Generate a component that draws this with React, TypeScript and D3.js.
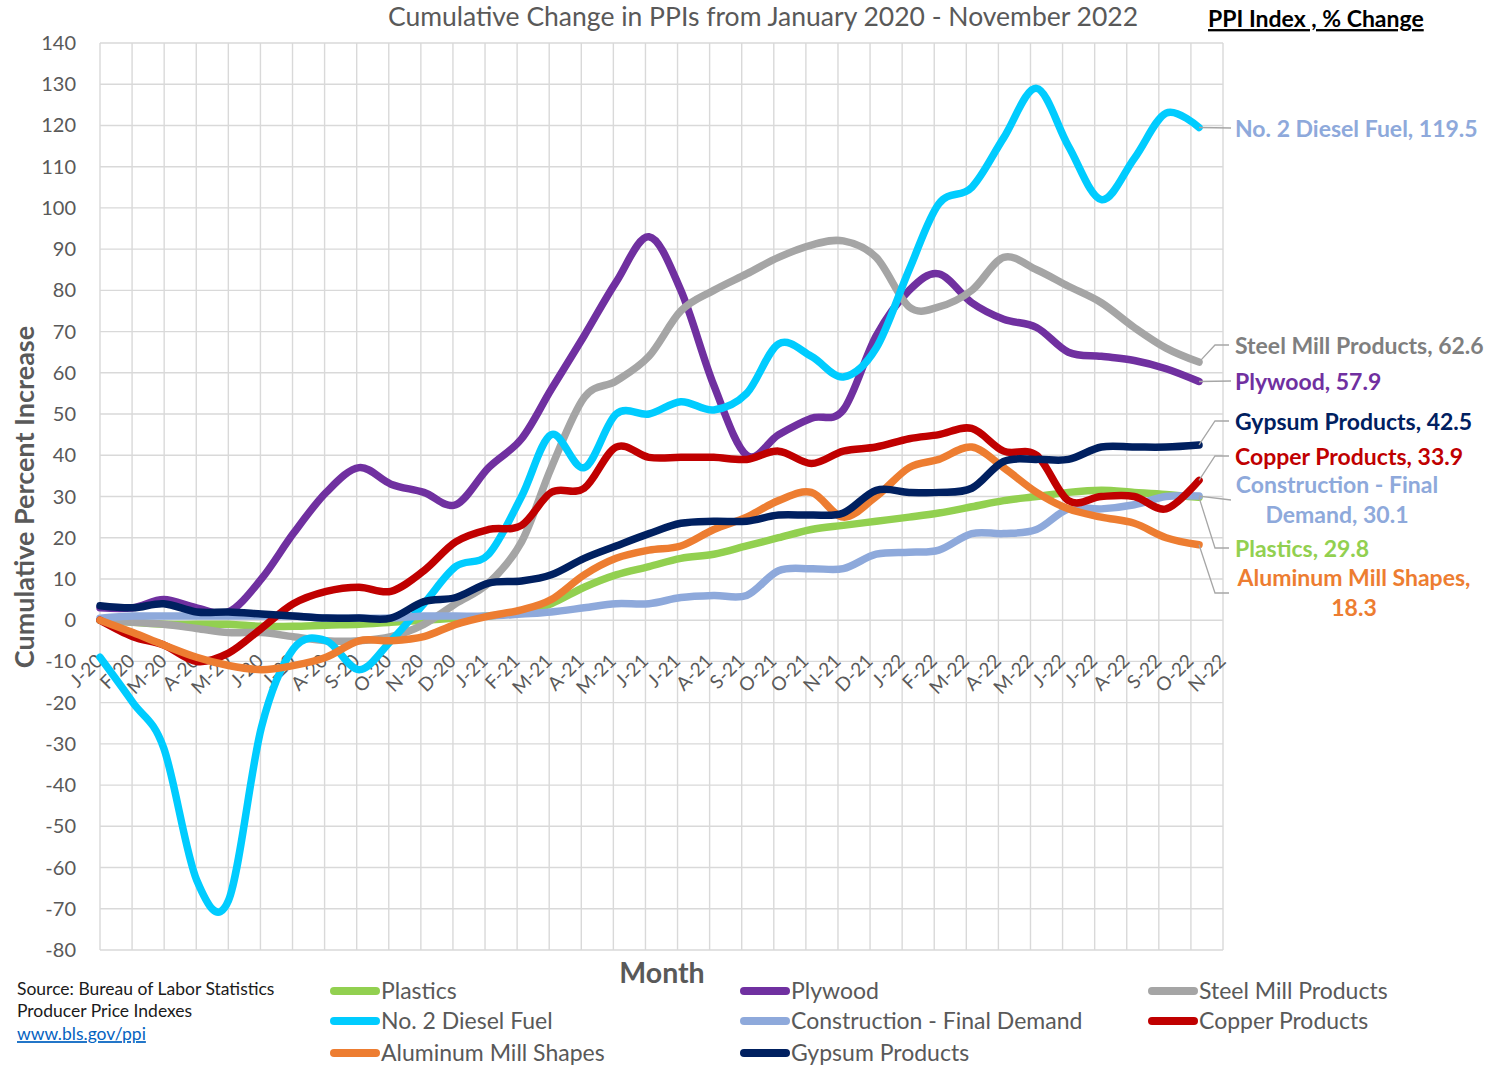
import React, { useEffect, useRef } from 'react';
import * as d3 from 'd3';

const W = 1497;
const H = 1066;

// category labels as printed under the chart (36 of them, one per gridline)
const tickLabels = [
  'J-20', 'F-20', 'M-20', 'A-20', 'M-20', 'J-20', 'J-20', 'A-20', 'S-20', 'O-20', 'N-20', 'D-20',
  'J-21', 'F-21', 'M-21', 'A-21', 'M-21', 'J-21', 'J-21', 'A-21', 'S-21', 'O-21', 'O-21', 'N-21', 'D-21',
  'J-22', 'F-22', 'M-22', 'A-22', 'M-22', 'J-22', 'J-22', 'A-22', 'S-22', 'O-22', 'N-22',
];
const yTicks = [140, 130, 120, 110, 100, 90, 80, 70, 60, 50, 40, 30, 20, 10, 0, -10, -20, -30, -40, -50, -60, -70, -80];

// monthly points, Jan 2020 .. Nov 2022
const months = d3.timeMonths(new Date(2020, 0, 1), new Date(2022, 11, 1));

const plastics = [0, -0.5, -1, -1, -1, -1.5, -1.5, -1.2, -1, -0.5, 0, 0.5, 1, 2, 4, 8, 11, 13, 15, 16, 18, 20, 22, 23, 24, 25, 26, 27.5, 29, 30, 31, 31.5, 31, 30.5, 29.8];
const plywood = [3, 3, 5, 3, 2, 10, 21, 31, 37, 33, 31, 28, 37, 44, 56, 69, 82, 93, 80, 57, 40, 45, 49, 51, 69, 80, 84, 77, 73, 71, 65, 64, 63, 61, 57.9];
const steel = [0, -0.5, -1, -2, -3, -3, -4, -5, -5, -4, -1, 4, 9, 19, 37, 54, 58, 64, 75, 80, 84, 88, 91, 92, 88, 76, 76, 80, 88, 85, 81, 77, 71, 66, 62.6];
const diesel = [-9, -20, -31, -63, -68, -26, -7, -5, -12, -5, 4, 13, 16, 30, 45, 37, 50, 50, 53, 51, 55, 67, 64, 59, 66, 85, 101, 105, 117, 129, 115, 102, 112, 123, 119.5];
const construction = [0.5, 1, 1, 1, 1, 1, 1, 0.5, 0.5, 0.5, 1, 1, 1, 1.5, 2, 3, 4, 4, 5.5, 6, 6, 12, 12.5, 12.5, 16, 16.5, 17, 21, 21, 22, 27, 27, 28, 30, 30.1];
const copper = [0, -4, -6, -10, -8, -2, 4, 7, 8, 7, 12, 19, 22, 23, 31, 32, 42, 39.5, 39.5, 39.5, 39, 41, 38, 41, 42, 44, 45, 46.5, 41, 40, 29, 30, 30, 27, 33.9];
const aluminum = [0, -3, -6, -9, -11, -12, -11, -9, -5, -5, -4, -1, 1, 2.5, 5, 11, 15, 17, 18, 22, 25, 29, 31, 25, 30, 37, 39, 42, 37, 31, 27, 25, 23.5, 20, 18.3];
const gypsum = [3.5, 3, 4, 2, 2, 1.5, 1, 0.5, 0.5, 0.5, 4.5, 5.5, 9, 9.5, 11, 15, 18, 21, 23.5, 24, 24, 25.5, 25.5, 26, 31.5, 31, 31, 32, 38.5, 39, 39, 42, 42, 42, 42.5];

// legend order (row by row), which is also the drawing order
const seriesNames = ['Plastics', 'Plywood', 'Steel Mill Products', 'No. 2 Diesel Fuel', 'Construction - Final Demand', 'Copper Products', 'Aluminum Mill Shapes', 'Gypsum Products'];
const seriesValues = [plastics, plywood, steel, diesel, construction, copper, aluminum, gypsum];
const lineColors = ['#92D050', '#7030A0', '#A5A5A5', '#00CCFF', '#8EA9DB', '#C00000', '#ED7D31', '#002060'];
const labelColors = ['#92D050', '#7030A0', '#7F7F7F', '#8EA9DB', '#8EA9DB', '#C00000', '#ED7D31', '#002060'];

// where the end-of-line labels sit (y of the leader line), and how many words go on line one
const endLabelY = [548, 381, 345, 128, 500, 456, 593, 421];
const endLabelWrap = [0, 0, 0, 0, 3, 0, 3, 0];

const font = 'Lato, "Open Sans", sans-serif';

export default function App() {
  const ref = useRef<SVGSVGElement>(null);

  useEffect(() => {
    document.body.style.margin = '0';
    const svg = d3.select(ref.current);
    svg.selectAll('*').remove();

    const left = 100, right = 1223, top = 43, bottom = 950;
    const x = d3.scaleTime()
      .domain([new Date(2020, 0, 1), new Date(2022, 10, 23, 14)])
      .range([left, right]);
    const y = d3.scaleLinear().domain([-80, 140]).range([bottom, top]);

    // gridline dates, evenly spread over the axis like the excel date axis
    const [d0, d1] = x.domain();
    const tickDates = tickLabels.map((_, i) => new Date(+d0 + (i * (+d1 - +d0)) / (tickLabels.length - 1)));

    const grid = svg.append('g').attr('stroke', '#D9D9D9').attr('stroke-width', 1.4);
    grid.selectAll('line.v')
      .data(tickDates)
      .enter()
      .append('line')
      .attr('x1', d => x(d))
      .attr('x2', d => x(d))
      .attr('y1', top)
      .attr('y2', bottom);
    grid.selectAll('line.h')
      .data(yTicks)
      .enter()
      .append('line')
      .attr('x1', left)
      .attr('x2', right)
      .attr('y1', d => y(d))
      .attr('y2', d => y(d));

    svg.append('g')
      .selectAll('text')
      .data(yTicks)
      .enter()
      .append('text')
      .attr('x', 76)
      .attr('y', d => y(d))
      .attr('dy', '0.35em')
      .attr('text-anchor', 'end')
      .attr('font-family', font)
      .attr('font-size', 20)
      .attr('fill', '#595959')
      .text(d => d);

    // category labels hang from the zero line, rotated
    svg.append('g')
      .selectAll('text')
      .data(tickDates)
      .enter()
      .append('text')
      .attr('transform', d => `translate(${x(d) + 4},${y(0) + 42}) rotate(-45)`)
      .attr('text-anchor', 'end')
      .attr('font-family', font)
      .attr('font-size', 19)
      .attr('fill', '#595959')
      .text((d, i) => tickLabels[i]);

    // excel-style smoothing ~ uniform catmull-rom
    const line = d3.line<number>()
      .x((d, i) => x(months[i]))
      .y(d => y(d))
      .curve(d3.curveCatmullRom.alpha(0));

    svg.append('g')
      .selectAll('path')
      .data(seriesValues)
      .enter()
      .append('path')
      .attr('d', d => line(d))
      .attr('fill', 'none')
      .attr('stroke', (d, i) => lineColors[i])
      .attr('stroke-width', 7.5)
      .attr('stroke-linecap', 'round')
      .attr('stroke-linejoin', 'round');

    // end labels with leader lines
    const last = months[months.length - 1];
    const labels = svg.append('g');
    seriesValues.forEach((vals, i) => {
      const v = vals[vals.length - 1];
      const ex = x(last);
      const ey = y(v);
      const ly = endLabelY[i];
      const straight = Math.abs(ly - ey) < 6;
      const pts = straight ? [[ex, ey], [1231, ly]] : [[ex, ey], [1215, ly], [1229, ly]];
      labels.append('path')
        .attr('d', d3.line()(pts as [number, number][]))
        .attr('fill', 'none')
        .attr('stroke', '#A6A6A6')
        .attr('stroke-width', 1.3);

      const words = `${seriesNames[i]}, ${v}`.split(' ');
      const g = labels.append('text')
        .attr('font-family', font)
        .attr('font-weight', 700)
        .attr('font-size', 23)
        .attr('fill', labelColors[i]);
      if (endLabelWrap[i]) {
        const lines = [words.slice(0, endLabelWrap[i]).join(' '), words.slice(endLabelWrap[i]).join(' ')];
        g.attr('text-anchor', 'middle');
        lines.forEach((t, k) => {
          g.append('tspan')
            .attr('x', i === 4 ? 1337 : 1354)
            .attr('y', ly - 15 + k * 30)
            .attr('dy', '0.35em')
            .text(t);
        });
      } else {
        g.attr('x', 1235).attr('y', ly + 1).attr('dy', '0.35em').text(words.join(' '));
      }
    });

    // titles
    svg.append('text')
      .attr('x', 763)
      .attr('y', 17)
      .attr('dy', '0.35em')
      .attr('text-anchor', 'middle')
      .attr('font-family', font)
      .attr('font-size', 26.5)
      .attr('fill', '#595959')
      .text('Cumulative Change in PPIs from January 2020 - November 2022');
    svg.append('text')
      .attr('x', 1208)
      .attr('y', 19)
      .attr('dy', '0.35em')
      .attr('font-family', font)
      .attr('font-weight', 700)
      .attr('font-size', 23)
      .attr('text-decoration', 'underline')
      .attr('fill', '#000')
      .text('PPI Index , % Change');
    svg.append('text')
      .attr('transform', 'translate(25,497) rotate(-90)')
      .attr('dy', '0.35em')
      .attr('text-anchor', 'middle')
      .attr('font-family', font)
      .attr('font-weight', 700)
      .attr('font-size', 27)
      .attr('fill', '#595959')
      .text('Cumulative Percent Increase');
    svg.append('text')
      .attr('x', 662)
      .attr('y', 973)
      .attr('dy', '0.35em')
      .attr('text-anchor', 'middle')
      .attr('font-family', font)
      .attr('font-weight', 700)
      .attr('font-size', 28.5)
      .attr('fill', '#595959')
      .text('Month');

    // source note
    const src = svg.append('g').attr('font-family', font).attr('font-size', 17.5);
    ['Source: Bureau of Labor Statistics', 'Producer Price Indexes'].forEach((t, k) => {
      src.append('text').attr('x', 17).attr('y', 989 + k * 22).attr('dy', '0.35em').attr('fill', '#1a1a1a').text(t);
    });
    src.append('text')
      .attr('x', 17)
      .attr('y', 1034)
      .attr('dy', '0.35em')
      .attr('fill', '#0563C1')
      .attr('text-decoration', 'underline')
      .text('www.bls.gov/ppi');

    // legend
    const legendX = [330, 740, 1148];
    const legendY = [991, 1021, 1053];
    const legend = svg.append('g')
      .selectAll('g')
      .data(seriesNames)
      .enter()
      .append('g')
      .attr('transform', (d, i) => `translate(${legendX[i % 3]},${legendY[Math.floor(i / 3)]})`);
    legend.append('line')
      .attr('x1', 4)
      .attr('x2', 46)
      .attr('stroke', (d, i) => lineColors[i])
      .attr('stroke-width', 8)
      .attr('stroke-linecap', 'round');
    legend.append('text')
      .attr('x', 51)
      .attr('dy', '0.35em')
      .attr('font-family', font)
      .attr('font-size', 23)
      .attr('fill', '#595959')
      .text(d => d);
  }, []);

  return <svg ref={ref} width={W} height={H} style={{ display: 'block', background: '#fff' }} />;
}
